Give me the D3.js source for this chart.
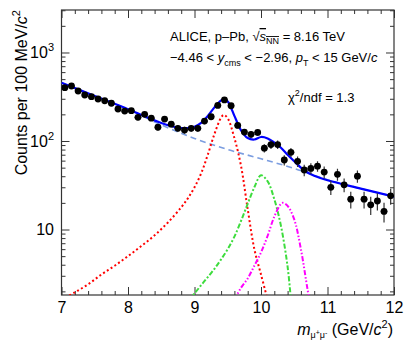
<!DOCTYPE html>
<html>
<head>
<meta charset="utf-8">
<script src="https://cdn.jsdelivr.net/npm/d3@7"></script>
<style>
  body { margin: 0; background: #fff; }
  svg { font-family: "Liberation Sans", Arial, Helvetica, sans-serif; }
</style>
</head>
<body>
<div id="chart"></div>
<script>
// Dimuon invariant mass bins (bin centres, GeV/c2) and counts
const massBins = [7.05, 7.15, 7.25, 7.35, 7.45, 7.55, 7.65, 7.75, 7.85, 7.95,
  8.05, 8.15, 8.25, 8.35, 8.45, 8.55, 8.65, 8.75, 8.85, 8.95,
  9.05, 9.15, 9.25, 9.35, 9.45, 9.55, 9.65, 9.75, 9.85, 9.95,
  10.05, 10.15, 10.25, 10.35, 10.45, 10.55, 10.65, 10.75, 10.85, 10.95,
  11.05, 11.15, 11.25, 11.35, 11.45, 11.55, 11.65, 11.75, 11.85, 11.95];
const counts = [400, 418, 367, 331, 317, 298, 285, 267, 230, 218,
  220, 185, 200, 181, 143, 177, 155, 139, 133, 139,
  139, 168, 188, 252, 291, 250, 150, 126, 119, 125,
  83, 91, 91, 61, 74.5, 59, 47, 49, 52, 44.6,
  30, 42, 32, 22, 40, 22, 19, 21, 16, 24];
const errors = [20, 20, 19, 18, 18, 17, 17, 16, 15, 15,
  15, 14, 14, 13, 12, 13, 12, 12, 12, 12,
  12, 13, 14, 16, 17, 16, 12, 11, 11, 11,
  9, 10, 10, 8, 9, 8, 7, 7, 7, 7,
  5.5, 6.5, 5.6, 4.7, 6.3, 4.7, 4.4, 4.6, 4, 4.9];

// fit curves [mass, value]
const totalFit = [[7.0, 456], [7.5, 322], [8.0, 229], [8.25, 190], [8.5, 160], [8.75, 142], [8.9, 140],
  [9.0, 145], [9.1, 160], [9.2, 192], [9.3, 240], [9.4, 288], [9.45, 296], [9.5, 280], [9.6, 192],
  [9.65, 158], [9.7, 132], [9.8, 108], [9.9, 104], [10.0, 111], [10.1, 107], [10.2, 96], [10.3, 84],
  [10.4, 70], [10.5, 59], [10.6, 50], [10.7, 44], [10.8, 40.5], [11.0, 36], [11.5, 29], [12.0, 23.5]];
const bkgFit = [[7.0, 455], [7.5, 322], [8.0, 228], [8.5, 152], [9.0, 107], [9.5, 80], [10.0, 63],
  [10.5, 49], [11.0, 36.5], [11.5, 29], [12.0, 23.5]];
const ups1S = [[7.0, 1.6], [7.2, 1.95], [7.4, 2.4], [7.6, 3.1], [7.8, 3.9], [8.0, 5.0], [8.2, 6.5],
  [8.4, 8.6], [8.6, 12.0], [8.8, 17.8], [8.9, 22.5], [9.0, 30], [9.1, 43], [9.2, 70], [9.3, 120],
  [9.4, 184], [9.44, 197], [9.5, 180], [9.6, 108], [9.7, 52], [9.8, 17], [9.9, 6.0], [10.0, 3.1], [10.1, 1.6]];
const ups2S = [[8.9, 1.6], [9.0, 1.9], [9.1, 2.35], [9.2, 2.9], [9.3, 3.6], [9.4, 4.6], [9.5, 6.0],
  [9.6, 8.3], [9.7, 12.5], [9.8, 19.5], [9.9, 30], [10.0, 41], [10.1, 35], [10.2, 22], [10.3, 11],
  [10.4, 3.8], [10.45, 1.6]];
const ups3S = [[9.6, 1.6], [9.7, 2.2], [9.8, 2.8], [9.9, 3.9], [10.0, 5.5], [10.1, 8.5], [10.2, 14],
  [10.3, 19.5], [10.33, 20], [10.4, 18.5], [10.5, 13], [10.6, 6], [10.7, 2.1], [10.75, 1.3]];

const xMajor = [7, 8, 9, 10, 11, 12];
const yMajor = [10, 100, 1000];

const width = 407;
const height = 340;

const svg = d3.select('#chart')
  .append('svg')
  .attr('width', width)
  .attr('height', height);

const x = d3.scaleLinear().domain([7, 12]).range([61.5, 394]);
const y = d3.scaleLog().domain([1.82, 3020]).range([295, 10]);

const x0 = x.range()[0], x1 = x.range()[1];
const yB = y.range()[0], yT = y.range()[1];

svg.append('clipPath').attr('id', 'plotclip')
  .append('rect')
  .attr('x', x0).attr('y', yT)
  .attr('width', x1 - x0).attr('height', yB - yT);

const xMinor = x.ticks(25).filter(d => !xMajor.includes(d));
const yMinor = y.ticks().filter(d => !yMajor.includes(d));

const axisColor = '#333';

// ticks on all four sides, pointing inwards
function styleAxis(g) {
  g.select('.domain').remove();
  g.selectAll('.tick line').attr('stroke', axisColor).attr('stroke-width', 1);
}

svg.append('g').attr('transform', `translate(0,${yB})`)
  .call(d3.axisBottom(x).tickValues(xMajor).tickSize(-8).tickPadding(6.5).tickFormat(d3.format('d')))
  .call(styleAxis)
  .selectAll('text').attr('font-size', 16).attr('fill', '#000')
  .attr('font-family', '"Liberation Sans", Arial, sans-serif');
svg.append('g').attr('transform', `translate(0,${yB})`)
  .call(d3.axisBottom(x).tickValues(xMinor).tickSize(-4).tickFormat(''))
  .call(styleAxis);
svg.append('g').attr('transform', `translate(0,${yT})`)
  .call(d3.axisTop(x).tickValues(xMajor).tickSize(-8).tickFormat(''))
  .call(styleAxis);
svg.append('g').attr('transform', `translate(0,${yT})`)
  .call(d3.axisTop(x).tickValues(xMinor).tickSize(-4).tickFormat(''))
  .call(styleAxis);

svg.append('g').attr('transform', `translate(${x0},0)`)
  .call(d3.axisLeft(y).tickValues(yMajor).tickSize(-8).tickFormat(''))
  .call(styleAxis);
svg.append('g').attr('transform', `translate(${x0},0)`)
  .call(d3.axisLeft(y).tickValues(yMinor).tickSize(-4).tickFormat(''))
  .call(styleAxis);
svg.append('g').attr('transform', `translate(${x1},0)`)
  .call(d3.axisRight(y).tickValues(yMajor).tickSize(-8).tickFormat(''))
  .call(styleAxis);
svg.append('g').attr('transform', `translate(${x1},0)`)
  .call(d3.axisRight(y).tickValues(yMinor).tickSize(-4).tickFormat(''))
  .call(styleAxis);

// y tick labels: 10, 10^2, 10^3
yMajor.forEach(v => {
  const p = Math.round(Math.log10(v));
  const t = svg.append('text')
    .attr('x', 54)
    .attr('y', y(v) + 5.8)
    .attr('text-anchor', 'end')
    .attr('font-size', 16)
    .text('10');
  if (p > 1) {
    t.append('tspan').attr('font-size', 11).attr('dy', -7).text(p);
  }
});

// frame
svg.append('rect')
  .attr('x', x0).attr('y', yT)
  .attr('width', x1 - x0).attr('height', yB - yT)
  .attr('fill', 'none')
  .attr('stroke', axisColor)
  .attr('stroke-width', 1.2);

// axis titles
const yTitle = svg.append('text')
  .attr('transform', `translate(27,${yT}) rotate(-90)`)
  .attr('text-anchor', 'end')
  .attr('font-size', 16)
  .text('Counts per 100 MeV/');
yTitle.append('tspan').attr('font-style', 'italic').text('c');
yTitle.append('tspan').attr('font-size', 11).attr('dy', -7).text('2');

const xTitle = svg.append('text')
  .attr('x', 393)
  .attr('y', 335)
  .attr('text-anchor', 'end')
  .attr('font-size', 16);
xTitle.append('tspan').attr('font-style', 'italic').text('m');
xTitle.append('tspan').attr('font-size', 9).attr('dy', 3).text('μ');
xTitle.append('tspan').attr('font-size', 7).attr('dy', -3).text('+');
xTitle.append('tspan').attr('font-size', 9).attr('dy', 3).text('μ');
xTitle.append('tspan').attr('font-size', 7).attr('dy', -3).text('-');
xTitle.append('tspan').attr('dy', 0).text(' (GeV/');
xTitle.append('tspan').attr('font-style', 'italic').text('c');
xTitle.append('tspan').attr('font-size', 11).attr('dy', -7).text('2');
xTitle.append('tspan').attr('dy', 7).text(')');

// fit components
const line = d3.line()
  .x(d => x(d[0]))
  .y(d => y(d[1]))
  .curve(d3.curveCatmullRom.alpha(0.5));

const plot = svg.append('g').attr('clip-path', 'url(#plotclip)');

plot.append('path').datum(bkgFit)
  .attr('d', line).attr('fill', 'none')
  .attr('stroke', '#7b9de0').attr('stroke-width', 1.6)
  .attr('stroke-dasharray', '6,4');

plot.append('path').datum(ups1S)
  .attr('d', line).attr('fill', 'none')
  .attr('stroke', '#ff0000').attr('stroke-width', 2)
  .attr('stroke-dasharray', '2,2.5');

plot.append('path').datum(ups2S)
  .attr('d', line).attr('fill', 'none')
  .attr('stroke', '#3ddc3d').attr('stroke-width', 2)
  .attr('stroke-dasharray', '5,2,2,2');

plot.append('path').datum(ups3S)
  .attr('d', line).attr('fill', 'none')
  .attr('stroke', '#ff00ff').attr('stroke-width', 2)
  .attr('stroke-dasharray', '5,2,1.5,2,1.5,2');

// data points with error bars
const pts = plot.append('g');
massBins.forEach((m, i) => {
  const cx = x(m), cy = y(counts[i]);
  pts.append('line')
    .attr('x1', cx).attr('x2', cx)
    .attr('y1', y(counts[i] - errors[i])).attr('y2', y(counts[i] + errors[i]))
    .attr('stroke', '#333').attr('stroke-width', 1.2);
  pts.append('line')
    .attr('x1', x(m - 0.05)).attr('x2', x(m + 0.05))
    .attr('y1', cy).attr('y2', cy)
    .attr('stroke', '#333').attr('stroke-width', 1.2);
});

plot.append('path').datum(totalFit)
  .attr('d', line).attr('fill', 'none')
  .attr('stroke', '#0000ff').attr('stroke-width', 2.2);

pts.raise();
pts.selectAll('circle')
  .data(massBins)
  .enter()
  .append('circle')
  .attr('cx', d => x(d))
  .attr('cy', (d, i) => y(counts[i]))
  .attr('r', 3.4)
  .attr('fill', '#000');

// annotations
const t1 = svg.append('text').attr('x', 170).attr('y', 41).attr('font-size', 13);
t1.append('tspan').text('ALICE, p–Pb, √');
t1.append('tspan').attr('font-style', 'italic').style('text-decoration', 'overline').text('s');
t1.append('tspan').attr('font-size', 9).attr('dy', 3).style('text-decoration', 'overline').text('NN');
t1.append('tspan').attr('dy', -3).text(' = 8.16 TeV');

const t2 = svg.append('text').attr('x', 170).attr('y', 61.5).attr('font-size', 13);
t2.append('tspan').text('−4.46 < ');
t2.append('tspan').attr('font-style', 'italic').text('y');
t2.append('tspan').attr('font-size', 9).attr('dy', 4).text('cms');
t2.append('tspan').attr('dy', -4).text(' < −2.96, ');
t2.append('tspan').attr('font-style', 'italic').text('p');
t2.append('tspan').attr('font-size', 9).attr('dy', 4).text('T');
t2.append('tspan').attr('dy', -4).text(' < 15 GeV/');
t2.append('tspan').attr('font-style', 'italic').text('c');

const t3 = svg.append('text').attr('x', 288).attr('y', 101.5).attr('font-size', 13);
t3.append('tspan').text('χ');
t3.append('tspan').attr('font-size', 9).attr('dy', -6).text('2');
t3.append('tspan').attr('dy', 6).text('/ndf = 1.3');
</script>
</body>
</html>
